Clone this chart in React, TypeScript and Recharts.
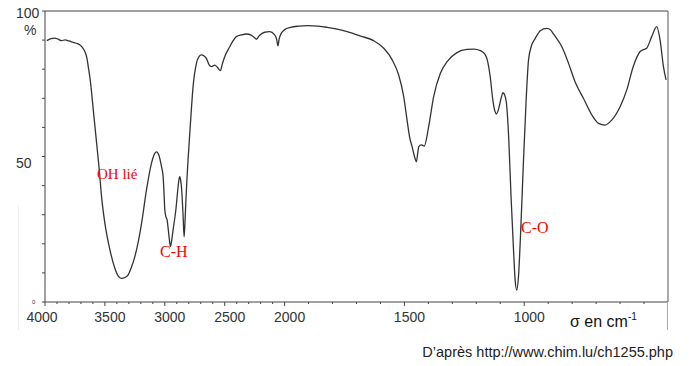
import React from 'react'
import { LineChart, Line, XAxis, YAxis, ReferenceLine } from 'recharts'

// wavenumber (cm-1) and transmittance (%)
const WAVENUMBERS = [
  3985, 3950, 3917, 3890, 3861, 3833, 3800, 3764, 3730, 3708, 3685, 3667, 3650, 3639, 3619, 3597,
  3569, 3547, 3528, 3500, 3458, 3417, 3390, 3361, 3330, 3306, 3280, 3250, 3220, 3194, 3153, 3111,
  3085, 3069, 3050, 3030, 3014, 3005, 3000, 2990, 2981, 2970, 2962, 2953, 2945, 2931, 2908, 2889,
  2880, 2875, 2868, 2861, 2847, 2839, 2832, 2825, 2806, 2786, 2764, 2736, 2715, 2694, 2675, 2653,
  2630, 2611, 2583, 2560, 2536, 2520, 2500, 2458, 2430, 2403, 2360, 2319, 2280, 2250, 2236, 2210,
  2167, 2125, 2083, 2065, 2056, 2045, 2028, 2000, 1975, 1940, 1905, 1860, 1822, 1780, 1739, 1683,
  1628, 1586, 1551, 1524, 1503, 1489, 1478, 1468, 1458, 1450, 1444, 1440, 1430, 1417, 1399, 1378,
  1350, 1322, 1281, 1239, 1210, 1183, 1165, 1156, 1142, 1131, 1122, 1117, 1110, 1103, 1095, 1089,
  1082, 1075, 1065, 1055, 1044, 1038, 1031, 1024, 1014, 1003, 992, 982, 970, 954, 933, 906,
  890, 878, 843, 815, 788, 753, 718, 690, 663, 635, 600, 572, 545, 517, 500, 489,
  468, 447, 433, 419, 408,
]
const TRANSMITTANCE = [
  89.8, 90.5, 90.7, 90.3, 89.8, 90.1, 89.7, 89.2, 88.8, 88.3, 87.3, 86.0, 83.8, 80.9, 75.1, 66.0,
  54.5, 45.4, 36.2, 27.0, 17.9, 11.6, 9.0, 8.1, 8.5, 9.3, 11.8, 15.6, 21.0, 27.0, 38.5, 47.7,
  51.0, 51.6, 50.5, 47.0, 43.1, 36.0, 31.6, 29.2, 28.2, 24.5, 21.5, 19.0, 20.5, 24.7, 31.6, 39.6,
  42.5, 43.1, 42.0, 39.6, 29.3, 22.4, 27.0, 33.9, 48.8, 61.4, 74.0, 82.0, 84.3, 84.9, 84.6, 83.7,
  81.5, 80.9, 81.4, 80.6, 79.5, 81.8, 84.3, 87.7, 89.8, 91.2, 91.8, 92.1, 91.7, 90.8, 90.3, 91.6,
  92.7, 92.9, 91.8, 90.0, 88.0, 90.5, 92.3, 93.6, 94.4, 94.8, 94.95, 94.8, 94.4, 93.8, 92.9, 91.4,
  89.8, 87.2, 83.2, 78.0, 70.6, 62.5, 56.5, 53.4, 50.0, 48.2, 51.5, 53.4, 54.0, 53.6, 60.2, 70.6,
  78.6, 82.6, 85.7, 86.8, 86.9, 86.4, 85.3, 83.7, 77.4, 69.4, 65.5, 64.6, 65.5, 67.7, 70.5, 71.9,
  71.2, 68.8, 56.8, 36.2, 16.7, 7.6, 4.1, 8.7, 25.9, 48.8, 69.4, 83.2, 88.0, 90.6, 93.2, 94.0,
  93.5, 92.1, 87.7, 82.0, 75.7, 70.0, 64.3, 61.4, 60.8, 62.5, 67.1, 72.9, 80.9, 86.0, 86.8, 87.2,
  91.2, 94.6, 90.0, 80.9, 76.3,
]

const X_LABELS = [4000, 3500, 3000, 2500, 2000, 1500, 1000]
const Y_TICKS = [0, 10, 20, 30, 40, 50, 60, 70, 80, 90, 100]

const SANS = '"Liberation Sans", Arial, sans-serif'
const SERIF = '"Liberation Serif", "Times New Roman", serif'

// the spectrometer doubles the scale below 2000 cm-1
const toPos = (s: number) => (s >= 2000 ? 4000 - s : 2000 + (2000 - s) * 2)
const fromPos = (p: number) => (p <= 2000 ? 4000 - p : 2000 - (p - 2000) / 2)

const data = WAVENUMBERS.map((s, i) => ({ pos: toPos(s), t: TRANSMITTANCE[i] }))

const xTicks: number[] = []
for (let s = 4000; s >= 500; s -= 100) xTicks.push(toPos(s))

function XTick(props: any) {
  const { x, y, payload } = props
  const s = Math.round(fromPos(payload.value))
  const major = X_LABELS.includes(s)
  return (
    <g>
      <line x1={x} y1={y} x2={x} y2={y + (major ? 4 : 2)} stroke="#444" />
      {major && (
        <text x={x + (s === 4000 ? -3 : 5)} y={y + 20} textAnchor="middle" fontSize={14} fill="#333" fontFamily={SANS}>
          {s}
        </text>
      )}
    </g>
  )
}

function YTick(props: any) {
  const { y, payload } = props
  const v = payload.value
  if (v === 100)
    return <text x={16} y={y + 6.5} fontSize={14} fill="#333" fontFamily={SANS}>100</text>
  if (v === 50)
    return <text x={16} y={y + 11} fontSize={14} fill="#333" fontFamily={SANS}>50</text>
  if (v === 0)
    return <text x={32} y={y + 2} fontSize={6} fill="#333" fontFamily={SANS}>0</text>
  return <g />
}

export default function App() {
  return (
    <div style={{ position: 'absolute', left: 0, top: 0, width: 689, height: 366, background: '#fff' }}>
      <LineChart width={689} height={366} data={data} margin={{ top: 11, right: 21, left: 0, bottom: 0 }}>
        <XAxis
          dataKey="pos"
          type="number"
          domain={[0, 5200]}
          ticks={xTicks}
          interval={0}
          tickSize={0}
          tickMargin={0}
          tick={<XTick />}
          height={64}
          axisLine={{ stroke: '#444' }}
          allowDataOverflow
        />
        <YAxis
          type="number"
          domain={[0, 100]}
          ticks={Y_TICKS}
          interval={0}
          tickSize={3}
          tickLine={{ stroke: '#444' }}
          tick={<YTick />}
          width={45}
          axisLine={{ stroke: '#444' }}
        />
        <ReferenceLine y={100} stroke="#444" />
        <ReferenceLine x={5200} stroke="#555" />
        <Line dataKey="t" type="monotone" stroke="#333" strokeWidth={1.3} dot={false} isAnimationActive={false} />
      </LineChart>
      <div style={{ position: 'absolute', left: 667, top: 302, width: 1, height: 28, background: '#aaa' }} />
      <div style={{ position: 'absolute', left: 18, top: 205, width: 1, height: 125, background: '#eee' }} />
      <svg width={689} height={366} style={{ position: 'absolute', left: 0, top: 0, pointerEvents: 'none' }}>
        <text x={24} y={35} fontSize={14} fill="#333" fontFamily={SANS}>%</text>
        <text x={97} y={179} fontSize={15} fill="#f00" fontFamily={SERIF}>OH lié</text>
        <text x={160} y={257} fontSize={16} fill="#f00" fontFamily={SERIF}>C-H</text>
        <text x={521} y={233} fontSize={16} fill="#f00" fontFamily={SERIF}>C-O</text>
        <text x={570} y={327} fontSize={16} fill="#111" fontFamily={SANS}>
          σ en cm<tspan dy={-7} fontSize={10}>-1</tspan>
        </text>
        <text x={673} y={357} textAnchor="end" fontSize={14.5} fill="#222" fontFamily={SANS}>
          D’après http://www.chim.lu/ch1255.php
        </text>
      </svg>
    </div>
  )
}
